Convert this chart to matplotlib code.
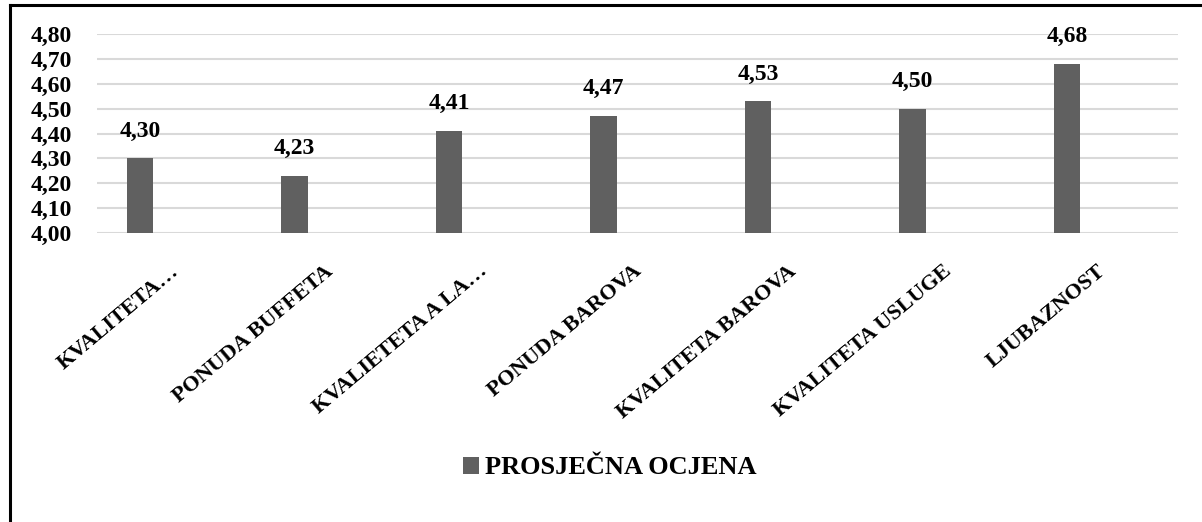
import matplotlib
matplotlib.use("Agg")
import matplotlib.pyplot as plt
import matplotlib.transforms as mtransforms
from matplotlib.lines import Line2D
from matplotlib.patches import Patch

categories = ["KVALITETA…", "PONUDA BUFFETA", "KVALIETETA A LA…", "PONUDA BAROVA",
              "KVALITETA BAROVA", "KVALITETA USLUGE", "LJUBAZNOST"]
values = [4.30, 4.23, 4.41, 4.47, 4.53, 4.50, 4.68]
series_name = "PROSJEČNA OCJENA"
yticks = [4.00, 4.10, 4.20, 4.30, 4.40, 4.50, 4.60, 4.70, 4.80]

def fmt(v):
    return f"{v:.2f}".replace(".", ",")

plt.rcParams['font.family'] = ['Liberation Serif', 'DejaVu Serif']
plt.rcParams['font.weight'] = 'bold'

fig = plt.figure(figsize=(12.02, 5.22), dpi=100)
ax = fig.add_axes([97/1202, 1-233/522, (1178-97)/1202, (233-34)/522])

bar_color = "#606060"
x = list(range(len(categories)))
ax.bar(x, values, width=0.17, color=bar_color, zorder=3)
ax.set_ylim(4.0, 4.8)
ax.set_xlim(-0.278, len(categories) - 1 + 0.718)
ax.set_yticks(yticks)
ax.set_yticklabels([fmt(t) for t in yticks], fontsize=17, fontweight='bold')
ax.grid(axis='y', color="#d9d9d9", linewidth=1.5, zorder=0)
for s in ax.spines.values():
    s.set_visible(False)
ax.tick_params(axis='both', length=0)
ax.tick_params(axis='y', pad=18)

for xi, v in zip(x, values):
    ax.annotate(fmt(v), (xi, v), xytext=(0, 12), textcoords='offset points',
                ha='center', va='bottom', fontsize=17, fontweight='bold', zorder=4)

ax.set_xticks(x)
ax.set_xticklabels(categories, rotation=40, ha='right', va='center',
                   rotation_mode='anchor', fontsize=16, fontweight='bold')
offset = mtransforms.ScaledTranslation(36/100, -31/100, fig.dpi_scale_trans)
for lbl in ax.get_xticklabels():
    lbl.set_transform(lbl.get_transform() + offset)

handle = Patch(facecolor=bar_color, edgecolor='none')
fig.legend([handle], [series_name], loc='center', bbox_to_anchor=(610/1202, 1-468/522),
           frameon=False, prop={'size': 19, 'weight': 'bold'},
           handlelength=0.6, handleheight=0.6, handletextpad=0.25)

fig.add_artist(Line2D([10/1202, 10/1202], [0, 1-4.5/522], color='black', linewidth=2.2,
                      transform=fig.transFigure))
fig.add_artist(Line2D([10/1202, 1], [1-4.5/522, 1-4.5/522], color='black', linewidth=2.2,
                      transform=fig.transFigure))

fig.savefig("out.png", dpi=100)
